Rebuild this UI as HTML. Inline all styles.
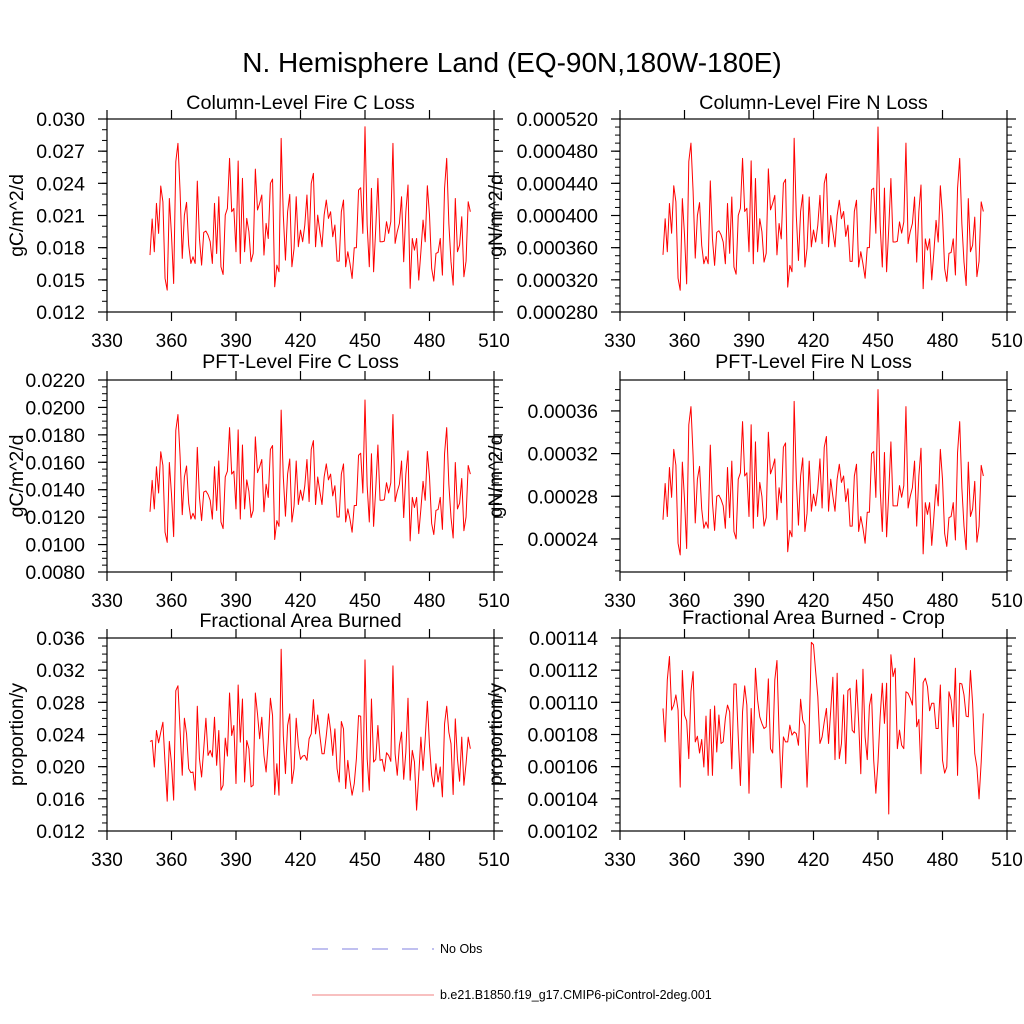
<!DOCTYPE html>
<html><head><meta charset="utf-8"><style>
html,body{margin:0;padding:0;background:#fff;}
svg{display:block;font-family:"Liberation Sans",sans-serif;}
</style></head><body>
<svg id="chart" width="1024" height="1024" viewBox="0 0 1024 1024">
<rect width="1024" height="1024" fill="#fff"/>
<text x="512" y="72" font-size="28" text-anchor="middle">N. Hemisphere Land (EQ-90N,180W-180E)</text>
<g>
<line x1="312" y1="949" x2="434" y2="949" stroke="#8080e0" stroke-width="1" stroke-dasharray="16,14"/>
<text x="440" y="953" font-size="12.5">No Obs</text>
<line x1="312" y1="995" x2="434" y2="995" stroke="#f08080" stroke-width="1"/>
<text x="440" y="999" font-size="12.5">b.e21.B1850.f19_g17.CMIP6-piControl-2deg.001</text>
</g>
</svg>
<script>
const years = [];
for (let y = 350; y <= 499; y++) years.push(y);
const xTicks = [330, 360, 390, 420, 450, 480, 510];

const colFireC = [17.31e-3,20.67e-3,17.62e-3,22.13e-3,19.33e-3,23.75e-3,22.28e-3,15.13e-3,14.04e-3,22.59e-3,19.17e-3,14.66e-3,26.02e-3,27.73e-3,23.22e-3,17.00e-3,21.04e-3,22.22e-3,18.24e-3,16.53e-3,17.15e-3,16.53e-3,24.21e-3,18.86e-3,16.37e-3,19.42e-3,19.55e-3,19.17e-3,18.55e-3,16.53e-3,22.13e-3,17.46e-3,22.75e-3,16.22e-3,15.50e-3,21.04e-3,21.66e-3,26.33e-3,21.35e-3,21.66e-3,17.62e-3,26.08e-3,16.53e-3,24.46e-3,17.62e-3,20.73e-3,19.49e-3,16.69e-3,17.46e-3,25.33e-3,21.51e-3,22.13e-3,22.91e-3,17.31e-3,20.26e-3,18.86e-3,24.00e-3,24.40e-3,14.35e-3,16.37e-3,15.75e-3,28.19e-3,21.04e-3,16.84e-3,21.35e-3,22.97e-3,16.22e-3,17.93e-3,22.75e-3,18.09e-3,19.64e-3,18.55e-3,20.11e-3,22.91e-3,18.40e-3,24.00e-3,24.93e-3,18.09e-3,21.04e-3,19.49e-3,18.09e-3,21.04e-3,22.44e-3,20.73e-3,21.35e-3,19.02e-3,20.11e-3,16.75e-3,16.75e-3,21.35e-3,22.44e-3,16.22e-3,17.62e-3,16.53e-3,15.13e-3,17.99e-3,17.99e-3,23.37e-3,23.59e-3,19.33e-3,29.28e-3,20.11e-3,16.22e-3,23.53e-3,15.75e-3,19.80e-3,24.46e-3,18.55e-3,18.55e-3,18.61e-3,20.42e-3,19.33e-3,20.42e-3,27.73e-3,18.40e-3,19.49e-3,20.26e-3,22.75e-3,16.69e-3,21.35e-3,23.84e-3,14.20e-3,18.86e-3,17.77e-3,18.86e-3,14.98e-3,17.62e-3,20.57e-3,18.55e-3,23.78e-3,21.04e-3,16.06e-3,14.88e-3,17.46e-3,17.56e-3,18.86e-3,15.44e-3,23.53e-3,26.33e-3,20.26e-3,16.69e-3,14.51e-3,22.59e-3,17.62e-3,18.24e-3,20.88e-3,15.29e-3,16.75e-3,22.28e-3,21.35e-3];

const colFireN = [351e-6,396e-6,355e-6,415e-6,378e-6,437e-6,417e-6,322e-6,307e-6,421e-6,376e-6,315e-6,467e-6,490e-6,430e-6,347e-6,400e-6,416e-6,363e-6,340e-6,349e-6,340e-6,443e-6,371e-6,338e-6,379e-6,381e-6,376e-6,367e-6,340e-6,415e-6,353e-6,423e-6,336e-6,327e-6,400e-6,409e-6,471e-6,405e-6,409e-6,355e-6,468e-6,340e-6,446e-6,355e-6,396e-6,380e-6,342e-6,353e-6,458e-6,407e-6,415e-6,425e-6,351e-6,390e-6,371e-6,440e-6,445e-6,311e-6,338e-6,330e-6,496e-6,400e-6,344e-6,405e-6,426e-6,336e-6,359e-6,423e-6,361e-6,382e-6,367e-6,388e-6,425e-6,365e-6,440e-6,452e-6,361e-6,400e-6,380e-6,361e-6,400e-6,419e-6,396e-6,405e-6,374e-6,388e-6,343e-6,343e-6,405e-6,419e-6,336e-6,355e-6,340e-6,322e-6,360e-6,360e-6,432e-6,434e-6,378e-6,510e-6,388e-6,336e-6,434e-6,330e-6,384e-6,446e-6,367e-6,367e-6,368e-6,392e-6,378e-6,392e-6,490e-6,365e-6,380e-6,390e-6,423e-6,342e-6,405e-6,438e-6,309e-6,371e-6,357e-6,371e-6,320e-6,355e-6,394e-6,367e-6,437e-6,400e-6,334e-6,318e-6,353e-6,354e-6,371e-6,326e-6,434e-6,471e-6,390e-6,342e-6,313e-6,421e-6,355e-6,363e-6,398e-6,324e-6,343e-6,417e-6,405e-6];

const pftFireC = [12.39e-3,14.68e-3,12.60e-3,15.67e-3,13.76e-3,16.77e-3,15.77e-3,10.90e-3,10.16e-3,15.98e-3,13.65e-3,10.58e-3,18.32e-3,19.48e-3,16.41e-3,12.18e-3,14.93e-3,15.73e-3,13.02e-3,11.86e-3,12.28e-3,11.86e-3,17.09e-3,13.44e-3,11.75e-3,13.83e-3,13.91e-3,13.65e-3,13.23e-3,11.86e-3,15.67e-3,12.49e-3,16.09e-3,11.65e-3,11.16e-3,14.93e-3,15.35e-3,18.53e-3,15.14e-3,15.35e-3,12.60e-3,18.36e-3,11.86e-3,17.26e-3,12.60e-3,14.72e-3,13.87e-3,11.97e-3,12.49e-3,17.85e-3,15.25e-3,15.67e-3,16.20e-3,12.39e-3,14.40e-3,13.44e-3,16.94e-3,17.22e-3,10.37e-3,11.75e-3,11.33e-3,19.80e-3,14.93e-3,12.07e-3,15.14e-3,16.24e-3,11.65e-3,12.81e-3,16.09e-3,12.92e-3,13.97e-3,13.23e-3,14.29e-3,16.20e-3,13.13e-3,16.94e-3,17.58e-3,12.92e-3,14.93e-3,13.87e-3,12.92e-3,14.93e-3,15.88e-3,14.72e-3,15.14e-3,13.55e-3,14.29e-3,12.01e-3,12.01e-3,15.14e-3,15.88e-3,11.65e-3,12.60e-3,11.86e-3,10.90e-3,12.85e-3,12.85e-3,16.51e-3,16.66e-3,13.76e-3,20.54e-3,14.29e-3,11.65e-3,16.62e-3,11.33e-3,14.08e-3,17.26e-3,13.23e-3,13.23e-3,13.27e-3,14.51e-3,13.76e-3,14.51e-3,19.48e-3,13.13e-3,13.87e-3,14.40e-3,16.09e-3,11.97e-3,15.14e-3,16.83e-3,10.27e-3,13.44e-3,12.70e-3,13.44e-3,10.80e-3,12.60e-3,14.61e-3,13.23e-3,16.79e-3,14.93e-3,11.54e-3,10.73e-3,12.49e-3,12.56e-3,13.44e-3,11.11e-3,16.62e-3,18.53e-3,14.40e-3,11.97e-3,10.48e-3,15.98e-3,12.60e-3,13.02e-3,14.82e-3,11.01e-3,12.01e-3,15.77e-3,15.14e-3];

const pftFireN = [258e-6,292e-6,261e-6,307e-6,279e-6,324e-6,309e-6,236e-6,225e-6,312e-6,277e-6,231e-6,347e-6,364e-6,318e-6,255e-6,296e-6,308e-6,268e-6,250e-6,256e-6,250e-6,328e-6,274e-6,248e-6,280e-6,281e-6,277e-6,271e-6,250e-6,307e-6,260e-6,313e-6,247e-6,240e-6,296e-6,302e-6,350e-6,299e-6,302e-6,261e-6,347e-6,250e-6,331e-6,261e-6,293e-6,280e-6,252e-6,260e-6,340e-6,301e-6,307e-6,315e-6,258e-6,288e-6,274e-6,326e-6,330e-6,228e-6,248e-6,242e-6,369e-6,296e-6,253e-6,299e-6,316e-6,247e-6,264e-6,313e-6,266e-6,282e-6,271e-6,287e-6,315e-6,269e-6,326e-6,336e-6,266e-6,296e-6,280e-6,266e-6,296e-6,310e-6,293e-6,299e-6,275e-6,287e-6,252e-6,252e-6,299e-6,310e-6,247e-6,261e-6,250e-6,236e-6,265e-6,265e-6,320e-6,322e-6,279e-6,380e-6,287e-6,247e-6,321e-6,242e-6,283e-6,331e-6,271e-6,271e-6,271e-6,290e-6,279e-6,290e-6,364e-6,269e-6,280e-6,288e-6,313e-6,252e-6,299e-6,325e-6,226e-6,274e-6,263e-6,274e-6,234e-6,261e-6,291e-6,271e-6,324e-6,296e-6,245e-6,233e-6,260e-6,261e-6,274e-6,239e-6,321e-6,350e-6,288e-6,252e-6,230e-6,312e-6,261e-6,268e-6,294e-6,237e-6,252e-6,309e-6,299e-6];

const areaBurned = [23.14e-3,23.26e-3,19.96e-3,24.50e-3,22.97e-3,24.29e-3,25.53e-3,20.37e-3,15.71e-3,23.14e-3,20.37e-3,15.84e-3,29.45e-3,30.06e-3,24.50e-3,18.93e-3,26.02e-3,24.08e-3,19.75e-3,19.26e-3,19.34e-3,17.07e-3,27.51e-3,20.99e-3,18.72e-3,22.23e-3,26.02e-3,21.40e-3,22.02e-3,21.20e-3,26.15e-3,20.17e-3,24.50e-3,17.07e-3,17.69e-3,23.55e-3,21.32e-3,29.16e-3,23.88e-3,25.12e-3,17.90e-3,30.15e-3,23.05e-3,28.41e-3,18.10e-3,23.26e-3,22.23e-3,17.49e-3,17.69e-3,29.16e-3,26.56e-3,23.47e-3,26.15e-3,21.40e-3,19.34e-3,23.05e-3,28.50e-3,26.35e-3,16.54e-3,20.37e-3,16.45e-3,34.60e-3,23.88e-3,19.14e-3,25.12e-3,26.56e-3,17.90e-3,19.75e-3,26.02e-3,22.64e-3,20.91e-3,21.32e-3,21.40e-3,20.78e-3,23.47e-3,24.08e-3,28.33e-3,24.08e-3,26.43e-3,23.88e-3,21.61e-3,21.61e-3,23.88e-3,26.56e-3,24.50e-3,21.40e-3,24.70e-3,19.75e-3,18.10e-3,25.61e-3,24.70e-3,17.28e-3,20.78e-3,18.31e-3,16.45e-3,17.90e-3,20.99e-3,26.35e-3,26.27e-3,16.87e-3,33.28e-3,20.99e-3,17.07e-3,28.41e-3,20.58e-3,20.91e-3,25.12e-3,20.78e-3,20.91e-3,19.42e-3,21.73e-3,21.40e-3,20.66e-3,32.54e-3,21.61e-3,18.93e-3,22.64e-3,24.29e-3,18.43e-3,21.82e-3,28.50e-3,18.31e-3,22.02e-3,20.58e-3,14.60e-3,18.93e-3,23.67e-3,19.55e-3,23.47e-3,28.13e-3,22.64e-3,18.93e-3,17.49e-3,20.37e-3,18.10e-3,19.96e-3,16.25e-3,25.32e-3,27.51e-3,24.29e-3,22.85e-3,16.54e-3,25.94e-3,20.99e-3,18.19e-3,23.67e-3,17.69e-3,20.37e-3,23.67e-3,22.23e-3];

const areaBurnedCrop = [109.62e-5,107.54e-5,111.39e-5,112.85e-5,109.52e-5,109.83e-5,110.46e-5,109.52e-5,104.73e-5,111.98e-5,109.21e-5,108.85e-5,106.50e-5,110.66e-5,111.91e-5,107.54e-5,107.89e-5,106.85e-5,107.69e-5,105.98e-5,109.14e-5,105.46e-5,109.56e-5,105.46e-5,109.77e-5,106.91e-5,109.21e-5,107.44e-5,107.54e-5,109.00e-5,109.83e-5,109.41e-5,105.87e-5,111.14e-5,111.14e-5,107.85e-5,104.83e-5,109.41e-5,111.02e-5,109.83e-5,104.35e-5,109.62e-5,106.85e-5,112.12e-5,110.14e-5,109.10e-5,108.69e-5,108.37e-5,108.48e-5,111.46e-5,107.12e-5,106.85e-5,111.39e-5,112.60e-5,108.06e-5,104.69e-5,107.85e-5,107.54e-5,107.54e-5,108.58e-5,107.96e-5,108.16e-5,108.06e-5,107.33e-5,110.19e-5,108.89e-5,108.58e-5,104.73e-5,108.27e-5,113.73e-5,113.58e-5,111.91e-5,110.35e-5,107.44e-5,107.85e-5,108.79e-5,109.62e-5,107.44e-5,109.48e-5,111.56e-5,106.44e-5,111.81e-5,106.50e-5,107.44e-5,110.46e-5,106.19e-5,110.73e-5,110.87e-5,108.27e-5,108.10e-5,111.39e-5,108.79e-5,105.56e-5,112.06e-5,107.85e-5,106.44e-5,109.77e-5,110.52e-5,106.40e-5,104.35e-5,106.29e-5,109.10e-5,111.19e-5,108.69e-5,111.19e-5,103.06e-5,112.96e-5,111.60e-5,112.12e-5,107.12e-5,108.27e-5,107.33e-5,107.12e-5,110.66e-5,110.56e-5,110.25e-5,109.83e-5,112.75e-5,108.48e-5,108.94e-5,105.56e-5,111.23e-5,111.50e-5,110.98e-5,109.48e-5,109.94e-5,109.94e-5,108.37e-5,108.37e-5,111.08e-5,106.40e-5,105.60e-5,105.98e-5,110.66e-5,110.14e-5,108.48e-5,112.12e-5,105.46e-5,111.19e-5,111.14e-5,110.46e-5,109.14e-5,109.10e-5,111.98e-5,109.94e-5,106.81e-5,105.98e-5,104.00e-5,106.29e-5,109.31e-5];

const ticksP1 = ["0.012","0.015","0.018","0.021","0.024","0.027","0.030"];
const ticksP2 = ["0.000280","0.000320","0.000360","0.000400","0.000440","0.000480","0.000520"];
const ticksP3 = ["0.0080","0.0100","0.0120","0.0140","0.0160","0.0180","0.0200","0.0220"];
const ticksP4 = ["0.00024","0.00028","0.00032","0.00036"];
const ticksP5 = ["0.012","0.016","0.020","0.024","0.028","0.032","0.036"];
const ticksP6 = ["0.00102","0.00104","0.00106","0.00108","0.00110","0.00112","0.00114"];

const NS = "http://www.w3.org/2000/svg";
const svg = document.getElementById('chart');
function mk(tag, attrs, parent) {
  const e = document.createElementNS(NS, tag);
  for (const k in attrs) e.setAttribute(k, attrs[k]);
  parent.appendChild(e);
  return e;
}

const panels = [
  {key:'column-fire-c', title:'Column-Level Fire C Loss', ylab:'gC/m^2/d', L:107,R:494,T:119,B:312, ymin:0.012, ymax:0.030, minor:0.001, ticks:ticksP1, data:colFireC, titleY:109, ylabX:23},
  {key:'column-fire-n', title:'Column-Level Fire N Loss', ylab:'gN/m^2/d', L:620,R:1007,T:119,B:312, ymin:0.00028, ymax:0.00052, minor:0.00001, ticks:ticksP2, data:colFireN, titleY:109, ylabX:502},
  {key:'pft-fire-c', title:'PFT-Level Fire C Loss', ylab:'gC/m^2/d', L:107,R:494,T:380,B:572, ymin:0.008, ymax:0.022, minor:0.0005, ticks:ticksP3, data:pftFireC, titleY:368, ylabX:23},
  {key:'pft-fire-n', title:'PFT-Level Fire N Loss', ylab:'gN/m^2/d', L:620,R:1007,T:380,B:572, ymin:0.000209, ymax:0.000389, minor:0.00001, ticks:ticksP4, data:pftFireN, titleY:368, ylabX:502},
  {key:'area-burned', title:'Fractional Area Burned', ylab:'proportion/y', L:107,R:494,T:638,B:831, ymin:0.012, ymax:0.036, minor:0.001, ticks:ticksP5, data:areaBurned, titleY:627, ylabX:23},
  {key:'area-burned-crop', title:'Fractional Area Burned - Crop', ylab:'proportion/y', L:620,R:1007,T:638,B:831, ymin:0.00102, ymax:0.00114, minor:0.000005, ticks:ticksP6, data:areaBurnedCrop, titleY:624, ylabX:502}
];

panels.forEach(p => {
  const g = mk('g', {}, svg);
  
  
  const xs = v => p.L + (v - 330) / 180 * (p.R - p.L);
  const ys = v => p.B - (v - p.ymin) / (p.ymax - p.ymin) * (p.B - p.T);

  const t = mk('text', {x:(p.L+p.R)/2, y:p.titleY, 'font-size':19.8, 'text-anchor':'middle'}, g);
  t.textContent = p.title;
  
  

  const yl = mk('text', {x:p.ylabX, y:(p.T+p.B)/2, 'font-size':19.5, 'text-anchor':'middle', transform:'rotate(-90 '+p.ylabX+' '+((p.T+p.B)/2)+')'}, g);
  yl.textContent = p.ylab;
  
  

  let d = '';
  p.data.forEach((v, i) => { d += (i ? 'L' : 'M') + xs(years[i]).toFixed(2) + ' ' + ys(v).toFixed(2); });
  const line = mk('path', {d:d, fill:'none', stroke:'#ff0000', 'stroke-width':1, 'stroke-linejoin':'round'}, g);
  
  

  const fr = mk('rect', {x:p.L, y:p.T, width:p.R-p.L, height:p.B-p.T, fill:'none', stroke:'#000', 'stroke-width':1.2}, g);
  
  

  xTicks.forEach(v => {
    const x = xs(v);
    mk('line', {x1:x, y1:p.B, x2:x, y2:p.B+9, stroke:'#000', 'stroke-width':1.2}, g);
    mk('line', {x1:x, y1:p.T, x2:x, y2:p.T-9, stroke:'#000', 'stroke-width':1.2}, g);
    const tl = mk('text', {x:x, y:p.B+35, 'font-size':19, 'text-anchor':'middle'}, g);
    tl.textContent = v;
    
    
  });

  const start = Math.ceil(p.ymin / p.minor - 1e-6);
  for (let k = start; k * p.minor <= p.ymax + 1e-12; k++) {
    const y = ys(k * p.minor);
    mk('line', {x1:p.L, y1:y, x2:p.L-5, y2:y, stroke:'#000', 'stroke-width':1}, g);
    mk('line', {x1:p.R, y1:y, x2:p.R+5, y2:y, stroke:'#000', 'stroke-width':1}, g);
  }
  p.ticks.forEach(s => {
    const y = ys(parseFloat(s));
    mk('line', {x1:p.L, y1:y, x2:p.L-9, y2:y, stroke:'#000', 'stroke-width':1.2}, g);
    mk('line', {x1:p.R, y1:y, x2:p.R+9, y2:y, stroke:'#000', 'stroke-width':1.2}, g);
    const tl = mk('text', {x:p.L-22, y:y+7, 'font-size':19.5, 'text-anchor':'end'}, g);
    tl.textContent = s;
    
    
  });
});
</script>
</body></html>
